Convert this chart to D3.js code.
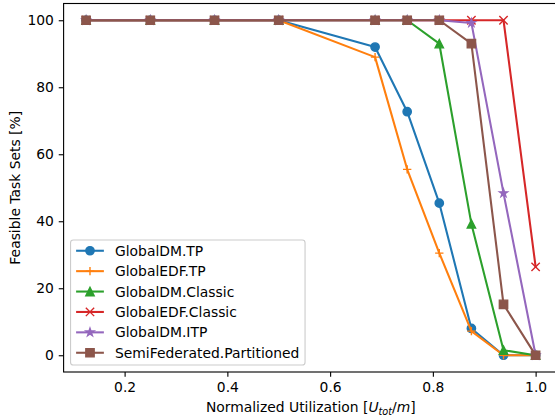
<!DOCTYPE html>
<html>
<head>
<meta charset="utf-8">
<script src="https://cdn.jsdelivr.net/npm/d3@7"></script>
<style>
  html, body { margin: 0; padding: 0; background: #fff; }
  svg { display: block; }
  text { font-family: "DejaVu Sans", sans-serif; fill: #000; }
</style>
</head>
<body>
<svg id="chart" width="555" height="420"></svg>
<script>
// ---- data ----
const xValues = [0.125, 0.25, 0.375, 0.5, 0.6875, 0.75, 0.8125, 0.875, 0.9375, 1.0];
const seriesNames = ["GlobalDM.TP", "GlobalEDF.TP", "GlobalDM.Classic", "GlobalEDF.Classic", "GlobalDM.ITP", "SemiFederated.Partitioned"];
const globalDMTP        = [100, 100, 100, 100, 92, 72.7, 45.4, 8.0, 0, 0];
const globalEDFTP       = [100, 100, 100, 100, 89, 55.5, 30.5, 7.2, 0, 0];
const globalDMClassic   = [100, 100, 100, 100, 100, 100, 93, 39.2, 1.5, 0];
const globalEDFClassic  = [100, 100, 100, 100, 100, 100, 100, 100, 100, 26.4];
const globalDMITP       = [100, 100, 100, 100, 100, 100, 100, 99.2, 48.4, 0];
const semiFedPartitioned= [100, 100, 100, 100, 100, 100, 100, 93, 15.2, 0];
const xTicks = [0.2, 0.4, 0.6, 0.8, 1.0];
const yTicks = [0, 20, 40, 60, 80, 100];
const xLabelText = "Normalized Utilization";
const yLabelText = "Feasible Task Sets [%]";

const seriesValues = [globalDMTP, globalEDFTP, globalDMClassic, globalEDFClassic, globalDMITP, semiFedPartitioned];
const colors = ["#1f77b4", "#ff7f0e", "#2ca02c", "#d62728", "#9467bd", "#8c564b"];
const markers = ["circle", "plus", "triangle", "x", "star", "square"];

// ---- layout ----
const svg = d3.select("#chart");
const L = 63.6, R = 558.1, T = 3.5, B = 372;
const fs = 13.89;
const lw = 2.08, mr = 4.17, mew = 1.39;

const x = d3.scaleLinear().domain([0.08125, 1.04375]).range([L, R]);
const y = d3.scaleLinear().domain([-5, 105]).range([B, T]);

function markerPath(type) {
  const r = mr;
  const p = d3.path();
  if (type === "circle") { p.arc(0, 0, r, 0, 2 * Math.PI); p.closePath(); }
  else if (type === "plus") { p.moveTo(-r, 0); p.lineTo(r, 0); p.moveTo(0, -r); p.lineTo(0, r); }
  else if (type === "x") { p.moveTo(-r, -r); p.lineTo(r, r); p.moveTo(-r, r); p.lineTo(r, -r); }
  else if (type === "triangle") { p.moveTo(0, -r); p.lineTo(-r, r); p.lineTo(r, r); p.closePath(); }
  else if (type === "square") { p.rect(-r, -r, 2 * r, 2 * r); }
  else if (type === "star") {
    const ri = r * 0.381966;
    for (let i = 0; i < 10; i++) {
      const rad = i % 2 === 0 ? r : ri;
      const a = -Math.PI / 2 + i * Math.PI / 5;
      const px = rad * Math.cos(a), py = rad * Math.sin(a);
      if (i === 0) p.moveTo(px, py); else p.lineTo(px, py);
    }
    p.closePath();
  }
  return p.toString();
}
function isFilled(type) { return !(type === "plus" || type === "x"); }

// ---- series ----
const plot = svg.append("g");
const line = d3.line().x((d, i) => x(xValues[i])).y(d => y(d));
seriesValues.forEach((vals, si) => {
  const g = plot.append("g");
  g.append("path").datum(vals)
    .attr("d", line)
    .attr("fill", "none")
    .attr("stroke", colors[si])
    .attr("stroke-width", lw)
    .attr("stroke-linejoin", "round")
    .attr("stroke-linecap", "square");
  g.selectAll("path.m").data(vals).enter().append("path")
    .attr("class", "m")
    .attr("d", markerPath(markers[si]))
    .attr("transform", (d, i) => `translate(${x(xValues[i])},${y(d)})`)
    .attr("fill", isFilled(markers[si]) ? colors[si] : "none")
    .attr("stroke", colors[si])
    .attr("stroke-width", mew)
    .attr("stroke-linejoin", "miter");
});

// ---- axes ----
const xAxis = d3.axisBottom(x).tickValues(xTicks).tickFormat(d3.format(".1f")).tickSize(4.86).tickPadding(4.86);
const yAxis = d3.axisLeft(y).tickValues(yTicks).tickFormat(d3.format("d")).tickSize(4.86).tickPadding(4.86);

const gx = svg.append("g").attr("transform", `translate(0,${B})`).call(xAxis);
const gy = svg.append("g").attr("transform", `translate(${L},0)`).call(yAxis);
[gx, gy].forEach(g => {
  g.select(".domain").remove();
  g.selectAll(".tick line").attr("stroke", "#000").attr("stroke-width", 1.11);
  g.selectAll(".tick text").attr("font-size", fs).attr("font-family", "DejaVu Sans").attr("fill", "#000");
});
gx.selectAll(".tick text").attr("dy", "0.76em");

// spines
svg.append("rect").attr("x", L).attr("y", T).attr("width", R - L).attr("height", B - T)
  .attr("fill", "none").attr("stroke", "#000").attr("stroke-width", 1.11);

// labels
const xl = svg.append("text").attr("x", (L + R) / 2).attr("y", 412)
  .attr("text-anchor", "middle").attr("font-size", fs);
xl.append("tspan").text(xLabelText + " [");
xl.append("tspan").attr("font-style", "italic").text("U");
xl.append("tspan").attr("font-style", "italic").attr("font-size", fs * 0.7).attr("dy", 3).text("tot");
xl.append("tspan").attr("dy", -3).text("/");
xl.append("tspan").attr("font-style", "italic").text("m");
xl.append("tspan").text("]");

svg.append("text")
  .attr("transform", `translate(20,${(T + B) / 2}) rotate(-90)`)
  .attr("text-anchor", "middle").attr("font-size", fs)
  .text(yLabelText);

// ---- legend ----
const lgX = L + 0.5 * fs, lgBottom = B - 0.5 * fs;
const rowH = 20.4;
const lgW = 234.5;
const lgH = 125;
const lgY = lgBottom - lgH;
const lg = svg.append("g");
lg.append("rect").attr("x", lgX).attr("y", lgY).attr("width", lgW).attr("height", lgH)
  .attr("rx", 2.8).attr("ry", 2.8)
  .attr("fill", "#fff").attr("fill-opacity", 0.8)
  .attr("stroke", "#cccccc").attr("stroke-width", 1.11);
const hx0 = lgX + 0.4 * fs, hx1 = hx0 + 2 * fs;
seriesNames.forEach((name, si) => {
  const cy = lgY + 10.7 + si * rowH;
  lg.append("line").attr("x1", hx0).attr("x2", hx1).attr("y1", cy).attr("y2", cy)
    .attr("stroke", colors[si]).attr("stroke-width", lw);
  lg.append("path").attr("d", markerPath(markers[si]))
    .attr("transform", `translate(${(hx0 + hx1) / 2},${cy})`)
    .attr("fill", isFilled(markers[si]) ? colors[si] : "none")
    .attr("stroke", colors[si]).attr("stroke-width", mew);
  lg.append("text").attr("x", hx1 + 0.8 * fs).attr("y", cy).attr("dy", "0.36em")
    .attr("font-size", fs).text(name);
});
</script>
</body>
</html>
